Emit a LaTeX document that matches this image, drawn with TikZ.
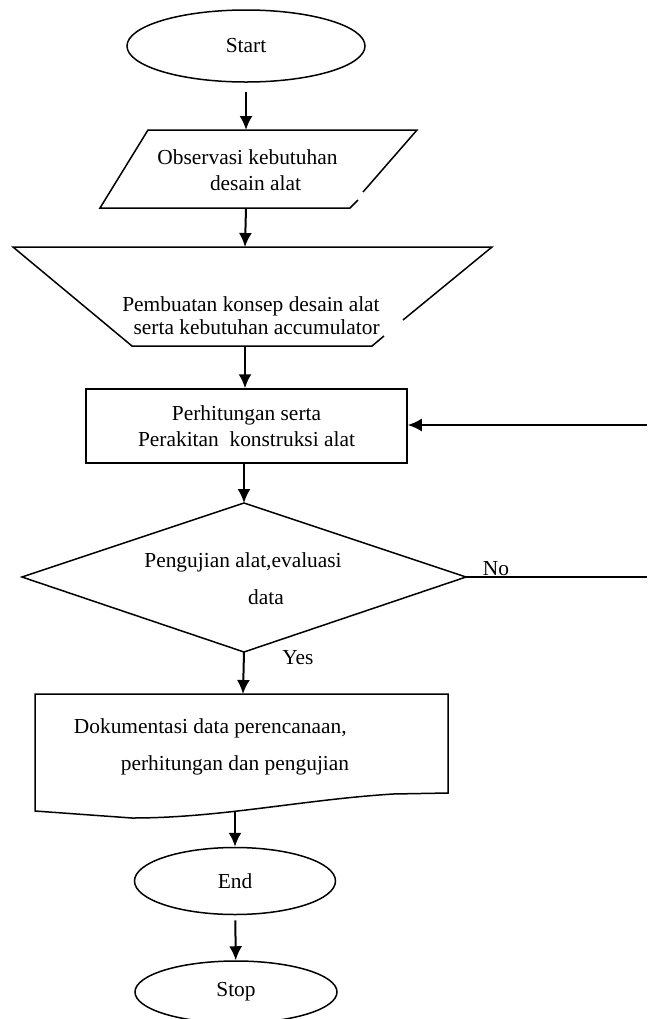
\documentclass[tikz,border=0pt]{standalone}
\usepackage{fontspec}
\setmainfont{Liberation Serif}
\usepackage{tikz}
\usetikzlibrary{shapes.geometric, arrows.meta}

\tikzset{
  garis/.style={black, line width=0.75pt},
  panah/.style={black, line width=1pt, -{Latex[length=7pt, width=6.5pt]}},
  oval/.style={draw, ellipse, line width=0.75pt, inner sep=0pt},
  teks/.style={align=center, inner sep=0pt, font=\fontsize{10.7}{13}\selectfont}
}

\begin{document}
\begin{tikzpicture}[x=0.5pt, y=-0.5pt]
    \useasboundingbox (0, 0) rectangle (649, 1019);

    % Start
    \node[oval, teks, minimum width=119pt, minimum height=36pt] (start) at (246, 46) {Start};



    % Observasi kebutuhan
    \draw[garis] (363, 192) -- (417, 130) -- (148, 130) -- (100, 208) -- (350, 208) -- (358, 200);

    \coordinate (obs-n) at (246, 130);

    \coordinate (obs-s) at (246, 208);

    \node[teks] (obs) at (247.5, 170) {Observasi kebutuhan\\\hspace*{8pt}desain alat};



    % Konsep desain
    \draw[garis] (403, 320) -- (492, 247) -- (13, 247) -- (132, 346) -- (372, 346) -- (384, 336);

    \coordinate (konsep-n) at (245, 247);

    \coordinate (konsep-s) at (245, 346);

    \node[teks, align=right, font=\fontsize{10.7}{11.5}\selectfont] (konsep) at (251, 316)
    {Pembuatan konsep desain alat\\serta kebutuhan accumulator};



    % Perhitungan
    \node[draw, teks, line width=0.75pt, minimum width=160.5pt, minimum height=37pt] (hitung)
    at (246.5, 426) {Perhitungan serta\\Perakitan\ \ konstruksi alat};



    % Pengujian
    \coordinate (uji-n) at (244, 503);

    \coordinate (uji-e) at (466, 577);

    \coordinate (uji-s) at (244, 652);

    \draw[garis] (uji-n) -- (uji-e) -- (uji-s) -- (22, 577) -- cycle;

    \node[teks, font=\fontsize{10.7}{18.5}\selectfont] (uji) at (243, 578.5)
    {Pengujian alat,evaluasi\\\hspace*{23pt}data};



    % Dokumentasi
    \draw[garis] (35, 694) -- (448, 694) -- (448, 793) -- (393, 794)
    .. controls (300, 800) and (220, 818) .. (132, 818) -- (35, 811) -- cycle;

    \coordinate (dok-n) at (243, 694);

    \coordinate (dok-s) at (235, 812);

    \node[teks, align=left, font=\fontsize{10.7}{18.5}\selectfont] (dok) at (211.5, 746.5)
    {Dokumentasi data perencanaan,\\\hspace*{23.5pt}perhitungan dan pengujian};



    % End i Stop
    \node[oval, teks, minimum width=100.5pt, minimum height=33.5pt] (end) at (235, 881) {End};

    \node[oval, teks, minimum width=101pt, minimum height=31pt] (stop) at (236, 992) {Stop};



    % Panah
    \draw[panah, shorten <=4.5pt] (start) -- (obs-n);

    \draw[panah] (obs-s) -- (konsep-n);

    \draw[panah] (konsep-s) -- (konsep-s |- hitung.north);

    \draw[panah] (hitung.south -| uji-n) -- (uji-n);

    \draw[panah] (uji-s) -- (dok-n);

    \draw[panah] (dok-s) -- (end);

    \draw[panah, shorten <=2.5pt] (end) -- (stop);



    % Balik
    \coordinate (balik) at (647, 425);

    \coordinate (tidak-ujung) at (647, 577);

    \draw[panah] (balik) -- (hitung.east |- balik);

    \draw[garis] (uji-e) -- (tidak-ujung);



    % Oznaczenia
    \node[teks] (no) at (496, 569) {No};

    \node[teks] (yes) at (298, 658) {Yes};
\end{tikzpicture}
\end{document}
